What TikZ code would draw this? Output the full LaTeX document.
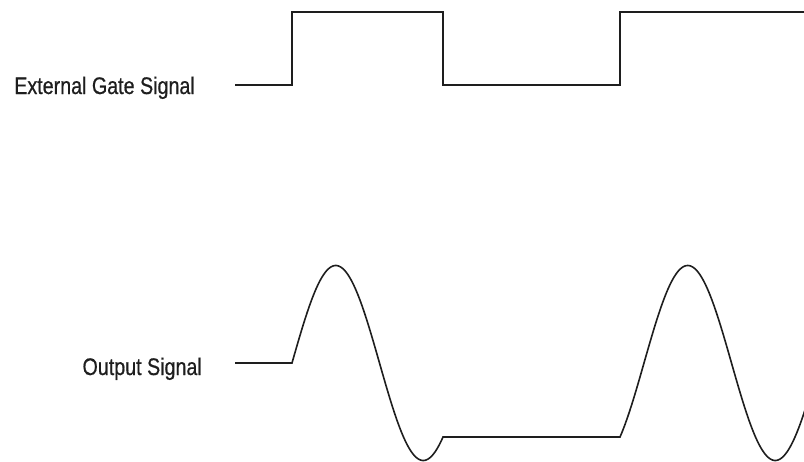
\documentclass[tikz,border=0pt]{standalone}
\usepackage{fontspec}
\newfontfamily\lblfont[FakeStretch=0.82,FakeBold=0.6]{Liberation Sans}
\definecolor{ink}{RGB}{30,30,30}
\begin{document}
\begin{tikzpicture}[x=1pt,y=-1pt,
  sig/.style={draw=ink,line width=1.6pt,line join=miter},
  lbl/.style={inner sep=0pt,text=ink,font=\lblfont\fontsize{24}{28}\selectfont}]
\useasboundingbox (0,0) rectangle (804,461);
% labels
\node[lbl,anchor=base east] (gatelbl) at (195,94) {External Gate Signal};
\node[lbl,anchor=base east] (outlbl) at (202,375) {Output Signal};
% gate signal
\coordinate (g0) at (235,85);
\coordinate (g1) at (292,85);
\coordinate (g2) at (292,12);
\coordinate (g3) at (443,12);
\coordinate (g4) at (443,85);
\coordinate (g5) at (620,85);
\coordinate (g6) at (620,12);
\coordinate (g7) at (804,12);
\draw[sig] (g0) -- (g1) -- (g2) -- (g3) -- (g4) -- (g5) -- (g6) -- (g7);
% output signal
\coordinate (o0) at (235,363);
\coordinate (o1) at (292,363);
\pgfmathsetmacro{\ph}{151/175*360}
\draw[sig] (o0) -- (o1)
  -- plot[domain=292:443,samples=120,smooth] (\x,{363-97.5*sin((\x-292)/175*360)})
  -- plot[domain=620:805,samples=140,smooth] (\x,{363-97.5*sin(\ph+(\x-620)/175*360)});
\end{tikzpicture}
\end{document}
